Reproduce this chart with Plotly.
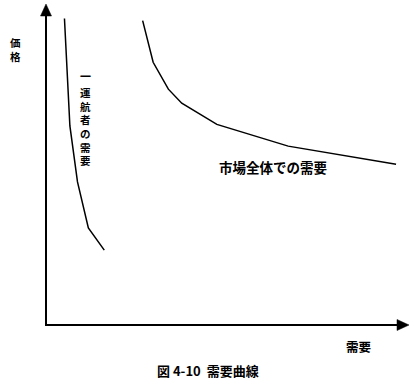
import plotly.graph_objects as go

# Data (arbitrary units: quantity 0-100, price 0-100)
single_qty = [5.1, 6.6, 8.7, 11.7, 16.1]
single_price = [95.8, 62.2, 44.7, 30.3, 23.4]

market_qty = [26.7, 29.6, 33.8, 37.5, 47.2, 66.9, 96.7]
market_price = [95.1, 82.1, 73.7, 69.3, 62.7, 55.9, 50.2]

label_single = "一運航者の需要"
label_market = "市場全体での需要"
label_x = "需要"
label_y = "価格"
caption = "図 4-10\u00a0\u00a0需要曲線"

FONT = "Noto Sans CJK JP"

fig = go.Figure()
fig.add_trace(go.Scatter(x=single_qty, y=single_price, mode="lines",
                         line=dict(color="black", width=1.5), hoverinfo="skip"))
fig.add_trace(go.Scatter(x=market_qty, y=market_price, mode="lines",
                         line=dict(color="black", width=1.5), hoverinfo="skip"))

W, H = 416, 387
L, R, T, B = 46, 8, 5, 62
pw, ph = W - L - R, H - T - B

def px(x):
    return (x - L) / pw

def py(y):
    return (H - B - y) / ph

shapes = [
    dict(type="line", xref="paper", yref="paper", x0=px(46), y0=py(325), x1=px(46), y1=py(14),
         line=dict(color="black", width=2)),
    dict(type="line", xref="paper", yref="paper", x0=px(45), y0=py(325), x1=px(399), y1=py(325),
         line=dict(color="black", width=2)),
    dict(type="path", xref="paper", yref="paper",
         path=f"M {px(40.5)} {py(16)} L {px(46)} {py(4)} L {px(51.5)} {py(16)} Z",
         fillcolor="black", line=dict(color="black", width=0.5)),
    dict(type="path", xref="paper", yref="paper",
         path=f"M {px(397)} {py(319.5)} L {px(409)} {py(325)} L {px(397)} {py(330.5)} Z",
         fillcolor="black", line=dict(color="black", width=0.5)),
]

def F(size):
    return dict(family=FONT, size=size, color="black", weight="bold")

annotations = [
    # vertical y-axis label
    dict(text="<br>".join(label_y), xref="paper", yref="paper", x=px(15.5), y=py(49.5),
         showarrow=False, font=F(10.5), xanchor="center", yanchor="middle"),
    # vertical curve label: first char separated, rest stacked
    dict(text=label_single[0], xref="paper", yref="paper", x=px(85), y=py(75.5),
         showarrow=False, font=F(11), xanchor="center", yanchor="middle"),
    dict(text="<br>".join(label_single[1:]), xref="paper", yref="paper", x=px(85), y=py(126.5),
         showarrow=False, font=F(10.5), xanchor="center", yanchor="middle"),
    dict(text=label_market, xref="paper", yref="paper", x=px(272.5), y=py(167),
         showarrow=False, font=F(13.5), xanchor="center", yanchor="middle"),
    dict(text=label_x, xref="paper", yref="paper", x=px(358), y=py(346),
         showarrow=False, font=F(12.5), xanchor="center", yanchor="middle"),
    dict(text=caption, xref="paper", yref="paper", x=px(208), y=py(370),
         showarrow=False, font=F(13), xanchor="center", yanchor="middle"),
]

fig.update_layout(
    width=W, height=H,
    margin=dict(l=L, r=R, t=T, b=B, pad=0),
    paper_bgcolor="white", plot_bgcolor="white",
    showlegend=False,
    xaxis=dict(range=[0, 100], visible=False, fixedrange=True),
    yaxis=dict(range=[0, 100], visible=False, fixedrange=True),
    shapes=shapes,
    annotations=annotations,
)

fig.write_html("out.html", config={"displayModeBar": False},
               post_script="document.body.style.margin='0';document.body.style.padding='0';")
